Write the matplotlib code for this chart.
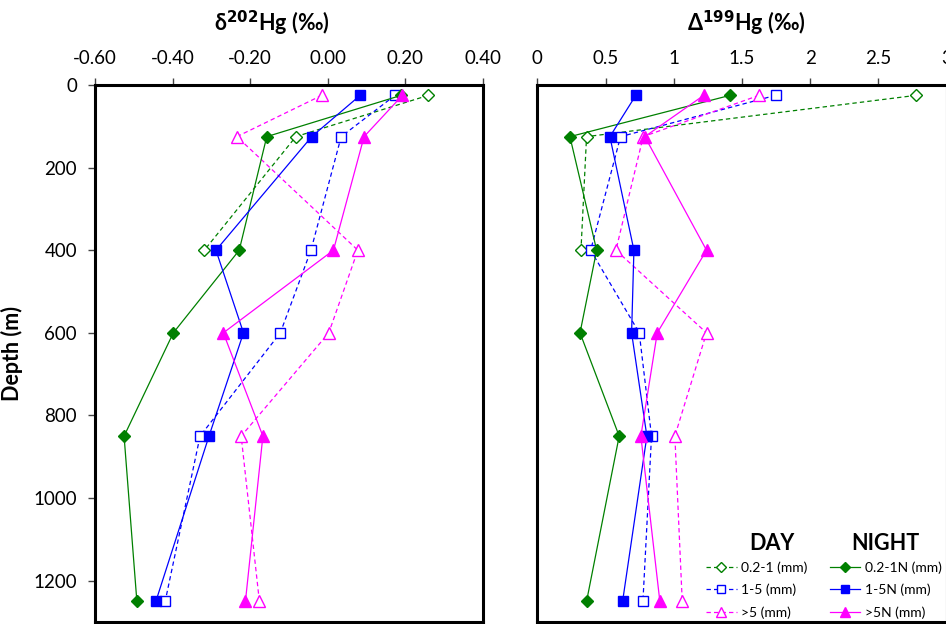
import matplotlib
matplotlib.use('Agg')
import matplotlib.pyplot as plt

plt.rcParams['font.family'] = ['Lato', 'DejaVu Sans']

# sampling depths (m)
depth = [25, 125, 400, 600, 850, 1250]
depth_02_day = [25, 125, 400]

# delta 202Hg (permil)
d202_02_day = [0.26, -0.082, -0.318]
d202_15_day = [0.174, 0.035, -0.043, -0.122, -0.329, -0.419]
d202_5_day = [-0.015, -0.234, 0.078, 0.003, -0.223, -0.176]
d202_02_night = [0.19, -0.157, -0.228, -0.398, -0.525, -0.492]
d202_15_night = [0.084, -0.041, -0.288, -0.217, -0.306, -0.443]
d202_5_night = [0.193, 0.094, 0.015, -0.269, -0.167, -0.212]

# cap delta 199Hg (permil)
D199_02_day = [2.777, 0.361, 0.32]
D199_15_day = [1.747, 0.61, 0.391, 0.747, 0.837, 0.774]
D199_5_day = [1.625, 0.776, 0.576, 1.24, 1.008, 1.062]
D199_02_night = [1.413, 0.239, 0.435, 0.313, 0.60, 0.361]
D199_15_night = [0.722, 0.532, 0.708, 0.691, 0.803, 0.625]
D199_5_night = [1.22, 0.788, 1.24, 0.879, 0.759, 0.898]

day_labels = ['0.2-1 (mm)', '1-5 (mm)', '>5 (mm)']
night_labels = ['0.2-1N (mm)', '1-5N (mm)', '>5N (mm)']

green = '#008000'
blue = '#0000FF'
magenta = '#FF00FF'
dash = (0, (3.5, 2.5))


def draw(ax, v02d, v15d, v5d, v02n, v15n, v5n):
    day = []
    night = []
    day.append(ax.plot(v02d, depth_02_day, color=green, ls=dash, lw=0.9, marker='D', ms=6,
                       mfc='white', mec=green, mew=1)[0])
    day.append(ax.plot(v15d, depth, color=blue, ls=dash, lw=0.9, marker='s', ms=7.5,
                       mfc='white', mec=blue, mew=1)[0])
    day.append(ax.plot(v5d, depth, color=magenta, ls=dash, lw=0.9, marker='^', ms=8.5,
                       mfc='white', mec=magenta, mew=1)[0])
    night.append(ax.plot(v02n, depth, color=green, ls='-', lw=0.9, marker='D', ms=6,
                         mfc=green, mec=green)[0])
    night.append(ax.plot(v15n, depth, color=blue, ls='-', lw=0.9, marker='s', ms=7.5,
                         mfc=blue, mec=blue)[0])
    night.append(ax.plot(v5n, depth, color=magenta, ls='-', lw=0.9, marker='^', ms=8.5,
                         mfc=magenta, mec=magenta)[0])
    ax.set_ylim(1300, 0)
    ax.xaxis.tick_top()
    for s in ax.spines.values():
        s.set_linewidth(2.2)
        s.set_color('black')
    ax.tick_params(axis='x', direction='out', length=5, width=1, pad=8, labelsize=13.5,
                   color='#444444')
    return day, night


fig = plt.figure(figsize=(9.46, 6.24), dpi=100)
ax1 = fig.add_axes([95 / 946, 2 / 624, 387.7 / 946, 537 / 624])
ax2 = fig.add_axes([537.3 / 946, 2 / 624, 409.4 / 946, 537 / 624])

draw(ax1, d202_02_day, d202_15_day, d202_5_day, d202_02_night, d202_15_night, d202_5_night)
ax1.set_xlim(-0.6, 0.4)
ax1.set_xticks([-0.6, -0.4, -0.2, 0.0, 0.2, 0.4])
ax1.set_xticklabels(['-0.60', '-0.40', '-0.20', '0.00', '0.20', '0.40'])
ax1.set_yticks([0, 200, 400, 600, 800, 1000, 1200])
ax1.tick_params(axis='y', direction='out', length=5, width=1, pad=8, labelsize=13.5,
                color='#444444')
ax1.set_ylabel('Depth (m)', fontsize=15.5, fontweight='bold')
ax1.yaxis.set_label_coords(-0.186, 0.5)

day_h, night_h = draw(ax2, D199_02_day, D199_15_day, D199_5_day,
                      D199_02_night, D199_15_night, D199_5_night)
ax2.set_xlim(0, 3)
ax2.set_xticks([0, 0.5, 1, 1.5, 2, 2.5, 3])
ax2.set_xticklabels(['0', '0.5', '1', '1.5', '2', '2.5', '3'])
ax2.set_yticks([])

fig.text(271.5 / 946, 1 - 23 / 624, r'δ$^{\mathbf{202}}$Hg (‰)', ha='center', va='center',
         fontsize=15.5, fontweight='bold')
fig.text(746.5 / 946, 1 - 23 / 624, r'Δ$^{\mathbf{199}}$Hg (‰)', ha='center', va='center',
         fontsize=15.5, fontweight='bold')

leg_kw = dict(frameon=False, fontsize=10, handlelength=2.2, handletextpad=0.35,
              labelspacing=0.72, borderpad=0, borderaxespad=0, loc='lower left',
              markerscale=0.8)
leg1 = ax2.legend(day_h, day_labels, bbox_to_anchor=(0.412, 0.006), **leg_kw)
ax2.add_artist(leg1)
ax2.legend(night_h, night_labels, bbox_to_anchor=(0.714, 0.006), **leg_kw)
ax2.text(0.5725, 0.147, 'DAY', transform=ax2.transAxes, ha='center', va='center',
         fontsize=15.5, fontweight='bold')
ax2.text(0.849, 0.147, 'NIGHT', transform=ax2.transAxes, ha='center', va='center',
         fontsize=15.5, fontweight='bold')

fig.savefig('out.png', dpi=100)
